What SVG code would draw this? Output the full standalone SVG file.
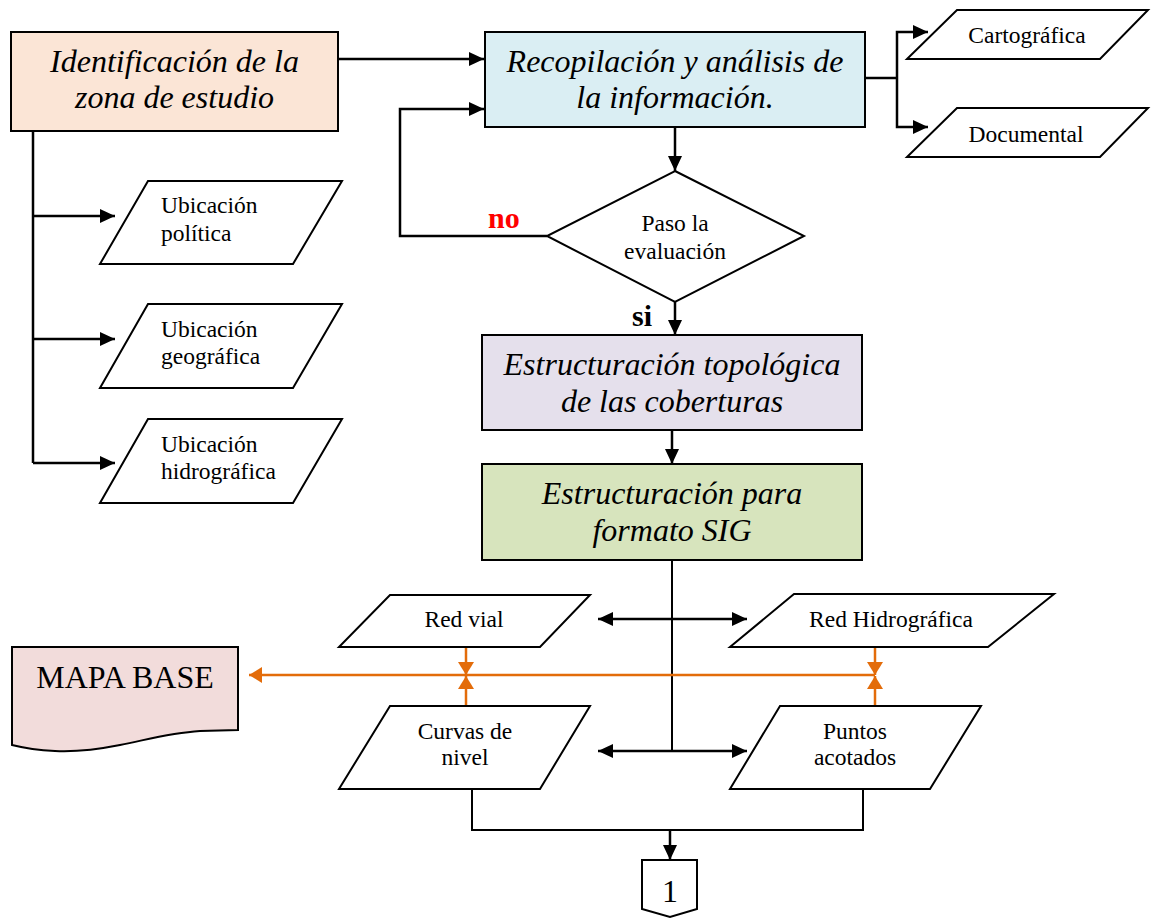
<svg xmlns="http://www.w3.org/2000/svg" width="1152" height="919" viewBox="0 0 1152 919">
<defs>
<marker id="ab" markerUnits="userSpaceOnUse" viewBox="0 0 15 14" markerWidth="15" markerHeight="14" refX="15" refY="7" orient="auto-start-reverse"><path d="M0,0 L15,7 L0,14 z" fill="#000"/></marker>
<marker id="ao" markerUnits="userSpaceOnUse" viewBox="0 0 13 16" markerWidth="13" markerHeight="16" refX="13" refY="8" orient="auto-start-reverse"><path d="M0,0 L13,8 L0,16 z" fill="#E36C0A"/></marker>
<style>
.box{stroke:#000;stroke-width:2}
.par{fill:#fff;stroke:#000;stroke-width:2}
.big{font-family:"Liberation Serif","Times New Roman",serif;font-size:32px;font-style:italic;text-anchor:middle;fill:#000}
.sm{font-family:"Liberation Serif","Times New Roman",serif;font-size:23.5px;fill:#000}
.c{text-anchor:middle}
.conn{fill:none;stroke:#000;stroke-width:2.5}
.thin{fill:none;stroke:#000;stroke-width:2}
.or{fill:none;stroke:#E36C0A;stroke-width:2.5}
.lbl{font-family:"Liberation Serif","Times New Roman",serif;font-size:30px;font-weight:bold}
</style>
</defs>
<rect width="1152" height="919" fill="#fff"/>

<g id="connectors">
<path class="conn" d="M338,59 H484" marker-end="url(#ab)"/>
<path class="conn" d="M547,236 H400 V109 H484" marker-end="url(#ab)"/>
<path class="conn" d="M675,127 V171" marker-end="url(#ab)"/>
<path class="conn" d="M675,302 V335" marker-end="url(#ab)"/>
<path class="conn" d="M672,430 V464" marker-end="url(#ab)"/>
<path class="conn" d="M865,78 H897"/>
<path class="conn" d="M928,32 H897 V127 H928" marker-start="url(#ab)" marker-end="url(#ab)"/>
<path class="conn" d="M33,131 V463"/>
<path class="conn" d="M33,216 H115" marker-end="url(#ab)"/>
<path class="conn" d="M33,339 H115" marker-end="url(#ab)"/>
<path class="conn" d="M33,463 H115" marker-end="url(#ab)"/>
<path class="thin" d="M672,560 V751"/>
<path class="conn" d="M598,619 H747" marker-start="url(#ab)" marker-end="url(#ab)"/>
<path class="conn" d="M598,751 H747" marker-start="url(#ab)" marker-end="url(#ab)"/>
<path class="or" d="M875,675 H249" marker-end="url(#ao)"/>
<path class="or" d="M466,647 V675" marker-end="url(#ao)"/>
<path class="or" d="M466,706 V676" marker-end="url(#ao)"/>
<path class="or" d="M875,647 V675" marker-end="url(#ao)"/>
<path class="or" d="M875,706 V676" marker-end="url(#ao)"/>
<path class="thin" d="M472,789 V830 H863 V789"/>
<path class="conn" d="M670,830 V860" marker-end="url(#ab)"/>
<text class="lbl" x="488" y="228" fill="#FF0000">no</text>
<text class="lbl" x="632" y="326" fill="#000">si</text>
</g>

<g id="identificacion">
<rect class="box" x="11" y="32" width="327" height="99" fill="#FBE5D6"/>
<text class="big" x="174.5" y="72">Identificación de la</text>
<text class="big" x="174.5" y="108">zona de estudio</text>
</g>

<g id="recopilacion">
<rect class="box" x="485" y="32" width="380" height="95" fill="#DAEEF3"/>
<text class="big" x="675" y="72">Recopilación y análisis de</text>
<text class="big" x="675" y="108">la información.</text>
</g>

<g id="cartografica">
<polygon class="par" points="957,10 1148,10 1100,59 907,59"/>
<text class="sm c" x="1027" y="43">Cartográfica</text>
</g>

<g id="documental">
<polygon class="par" points="957,108 1148,108 1100,157 907,157"/>
<text class="sm c" x="1026" y="142">Documental</text>
</g>

<g id="ubicacion-politica">
<polygon class="par" points="148,181 342,181 293,264 100,264"/>
<text class="sm" x="161" y="213">Ubicación</text>
<text class="sm" x="161" y="241">política</text>
</g>

<g id="ubicacion-geografica">
<polygon class="par" points="148,304 342,304 293,388 100,388"/>
<text class="sm" x="161" y="337">Ubicación</text>
<text class="sm" x="161" y="364">geográfica</text>
</g>

<g id="ubicacion-hidrografica">
<polygon class="par" points="148,419 342,419 293,503 100,503"/>
<text class="sm" x="161" y="452">Ubicación</text>
<text class="sm" x="161" y="479">hidrográfica</text>
</g>

<g id="evaluacion">
<polygon class="par" points="675,171 804,236 675,302 547,236"/>
<text class="sm c" x="675" y="231">Paso la</text>
<text class="sm c" x="675" y="259">evaluación</text>
</g>

<g id="topologica">
<rect class="box" x="482" y="335" width="380" height="95" fill="#E5E0EC"/>
<text class="big" x="672" y="375">Estructuración topológica</text>
<text class="big" x="672" y="412">de las coberturas</text>
</g>

<g id="sig">
<rect class="box" x="482" y="464" width="380" height="96" fill="#D7E4BD"/>
<text class="big" x="672" y="504">Estructuración para</text>
<text class="big" x="672" y="541">formato SIG</text>
</g>

<g id="red-vial">
<polygon class="par" points="390,595 590,595 540,647 339,647"/>
<text class="sm c" x="464" y="627">Red vial</text>
</g>

<g id="red-hidrografica">
<polygon class="par" points="794,594 1054,594 988,647 730,647"/>
<text class="sm c" x="891" y="627">Red Hidrográfica</text>
</g>

<g id="curvas">
<polygon class="par" points="390,706 590,706 540,789 339,789"/>
<text class="sm c" x="465" y="739">Curvas de</text>
<text class="sm c" x="465" y="765">nivel</text>
</g>

<g id="puntos">
<polygon class="par" points="780,706 981,706 930,789 730,789"/>
<text class="sm c" x="855" y="739">Puntos</text>
<text class="sm c" x="855" y="765">acotados</text>
</g>

<g id="mapa-base">
<path class="box" fill="#F2DCDB" d="M12,647 H238 V730 L200,731 C170,733 150,739 120,745 C95,750 75,752 55,751 C35,750 20,747 12,745 Z"/>
<text x="125" y="688" font-family="'Liberation Serif','Times New Roman',serif" font-size="32" text-anchor="middle" fill="#000">MAPA BASE</text>
</g>

<g id="conector-1">
<polygon class="par" points="642,860 697,860 697,909 670,917 642,909"/>
<text x="670" y="902" font-family="'Liberation Serif','Times New Roman',serif" font-size="32" text-anchor="middle" fill="#000">1</text>
</g>
</svg>
